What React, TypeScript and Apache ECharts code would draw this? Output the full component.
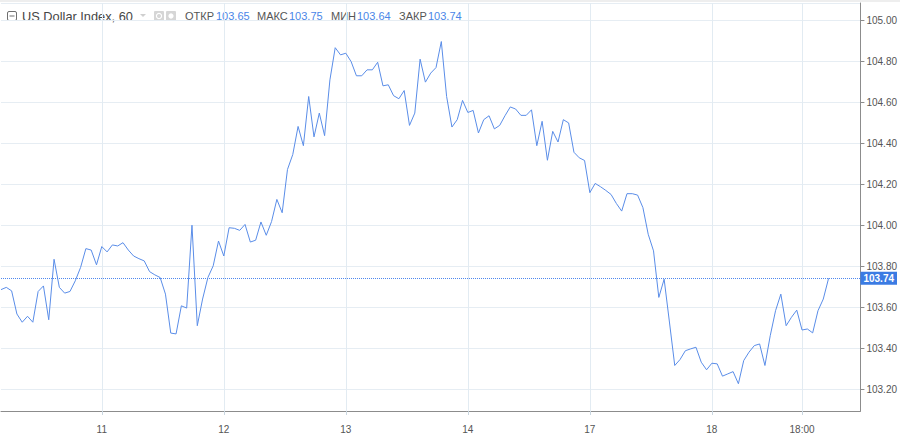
import React, { useEffect, useRef } from "react";
import * as echarts from "echarts";

// hourly closes, one per category slot (23 bars per trading day)
const closes: number[] = [
  103.685, 103.696, 103.679, 103.566, 103.526, 103.555, 103.526, 103.676, 103.703, 103.538,
  103.833, 103.696, 103.668, 103.676, 103.728, 103.793, 103.885, 103.878, 103.806, 103.895,
  103.869, 103.903, 103.898, 103.914, 103.878, 103.849, 103.836, 103.825, 103.773, 103.757,
  103.744, 103.663, 103.473, 103.469, 103.606, 103.595, 103.999, 103.509, 103.639, 103.744,
  103.801, 103.922, 103.849, 103.987, 103.984, 103.974, 104.003, 103.917, 103.926, 104.015,
  103.950, 104.017, 104.125, 104.060, 104.271, 104.344, 104.481, 104.387, 104.627, 104.430,
  104.546, 104.436, 104.708, 104.865, 104.830, 104.838, 104.797, 104.728, 104.728, 104.757,
  104.757, 104.794, 104.679, 104.684, 104.631, 104.616, 104.656, 104.486, 104.546, 104.809,
  104.697, 104.741, 104.768, 104.895, 104.627, 104.478, 104.514, 104.608, 104.549, 104.559,
  104.449, 104.514, 104.533, 104.469, 104.486, 104.533, 104.576, 104.566, 104.535, 104.535,
  104.562, 104.387, 104.506, 104.316, 104.457, 104.405, 104.514, 104.498, 104.355, 104.328,
  104.315, 104.158, 104.203, 104.187, 104.169, 104.149, 104.105, 104.068, 104.153, 104.153,
  104.146, 104.085, 103.955, 103.874, 103.647, 103.736, 103.527, 103.315, 103.344, 103.387,
  103.396, 103.404, 103.331, 103.294, 103.326, 103.323, 103.263, 103.274, 103.285, 103.226,
  103.339, 103.380, 103.412, 103.420, 103.315, 103.460, 103.582, 103.663, 103.509, 103.550,
  103.585, 103.488, 103.493, 103.474, 103.582, 103.639, 103.740,
];

const slotCount = 163;
const categories: string[] = Array.from({ length: slotCount }, (_, i) => String(i));

const tickIndex: number[] = [19, 42, 65, 88, 111, 134, 151];
const tickLabels: string[] = ["11", "12", "13", "14", "17", "18", "18:00"];

const title = "US Dollar Index, 60";
const ohlcLabels: string[] = ["ОТКР", "МАКС", "МИН", "ЗАКР"];
const ohlcValues: number[] = [103.65, 103.75, 103.64, 103.74];
const ohlcLabelX: number[] = [185, 257, 331, 399];
const ohlcValueX: number[] = [216, 289, 357, 428];

const yMin = 103.093;
const yMax = 105.083;

const FONT = "'Liberation Sans', Arial, sans-serif";

export default function App() {
  const ref = useRef<HTMLDivElement>(null);

  useEffect(() => {
    if (!ref.current) return;
    const chart = echarts.init(ref.current, undefined, { renderer: "svg" });
    const isTick = (index: number) => tickIndex.includes(index);
    const closeValue = ohlcValues[3];

    const headerGraphics: any[] = [
      { type: "rect", shape: { x: 0, y: 0, width: 900, height: 2 }, style: { fill: "#eeeeee" }, silent: true },
      // collapse icon
      { type: "rect", shape: { x: 7.5, y: 11.5, width: 9, height: 9, r: 1.5 }, style: { fill: "#fff", stroke: "#6f6f6f", lineWidth: 1 } },
      { type: "line", shape: { x1: 9.5, y1: 16, x2: 14.5, y2: 16 }, style: { stroke: "#6f6f6f", lineWidth: 1 } },
      {
        type: "text", x: 22, y: 16,
        style: { text: title, fill: "#464646", font: `12.8px ${FONT}`, textVerticalAlign: "middle" },
      },
      { type: "polygon", shape: { points: [[140, 14], [146, 14], [143, 17]] }, style: { fill: "#cfcfcf" } },
      // small settings icons
      { type: "rect", shape: { x: 154, y: 11, width: 10, height: 10, r: 1 }, style: { fill: "#d6d6d6" } },
      { type: "circle", shape: { cx: 159, cy: 16, r: 2.6 }, style: { fill: "none", stroke: "#fff", lineWidth: 1.2 } },
      { type: "rect", shape: { x: 166, y: 11, width: 10, height: 10, r: 1 }, style: { fill: "#d6d6d6" } },
      { type: "circle", shape: { cx: 171, cy: 16, r: 2.6 }, style: { fill: "#fff" } },
    ];
    ohlcLabels.forEach((lab, i) => {
      headerGraphics.push({
        type: "text", x: ohlcLabelX[i], y: 16,
        style: { text: lab, fill: "#555555", font: `11px ${FONT}`, textVerticalAlign: "middle" },
      });
      headerGraphics.push({
        type: "text", x: ohlcValueX[i], y: 16,
        style: { text: ohlcValues[i].toFixed(2), fill: "#4a86e8", font: `11px ${FONT}`, textVerticalAlign: "middle" },
      });
    });

    chart.setOption({
      animation: false,
      backgroundColor: "#ffffff",
      grid: { left: 1, right: 35.5, top: 3, bottom: 24, containLabel: false },
      xAxis: {
        type: "category",
        data: categories,
        boundaryGap: false,
        axisLine: { show: true, lineStyle: { color: "#8c8c8c", width: 1 } },
        axisTick: { show: true, interval: isTick, length: 4, lineStyle: { color: "#c9d6e0" } },
        axisLabel: {
          interval: isTick,
          formatter: (v: string) => {
            const k = tickIndex.indexOf(Number(v));
            return k >= 0 ? tickLabels[k] : "";
          },
          color: "#555555",
          fontSize: 10,
          fontFamily: FONT,
          margin: 13,
        },
        splitLine: { show: true, interval: isTick, lineStyle: { color: "#e2ebf2", width: 1 } },
      },
      yAxis: {
        type: "value",
        position: "right",
        min: yMin,
        max: yMax,
        splitNumber: 10,
        scale: true,
        axisLine: { show: true, lineStyle: { color: "#8c8c8c", width: 1 } },
        axisTick: { show: true, inside: false, length: 4, lineStyle: { color: "#8c8c8c" } },
        axisLabel: {
          color: "#555555",
          fontSize: 10,
          fontFamily: FONT,
          margin: 6,
          showMinLabel: false,
          showMaxLabel: false,
          formatter: (v: number) => v.toFixed(2),
        },
        splitLine: { show: true, lineStyle: { color: "#e6edf3", width: 1 } },
      },
      series: [
        {
          type: "line",
          data: closes,
          showSymbol: false,
          symbol: "none",
          silent: true,
          lineStyle: { color: "#5a8de8", width: 1 },
          markLine: {
            silent: true,
            symbol: "none",
            animation: false,
            data: [{ yAxis: closeValue }],
            lineStyle: { type: [1, 1], color: "#4f88ee", width: 1 },
            label: {
              show: true,
              position: "end",
              distance: 0,
              formatter: () => closeValue.toFixed(2),
              color: "#ffffff",
              fontWeight: "bold",
              fontSize: 10,
              fontFamily: FONT,
              lineHeight: 10,
              backgroundColor: "#3b7be3",
              padding: [2, 3, 1, 3],
            },
          },
        },
      ],
      graphic: headerGraphics,
    });

    return () => chart.dispose();
  }, []);

  return (
    <div
      ref={ref}
      style={{ position: "fixed", left: 0, top: 0, width: 900, height: 435, background: "#fff" }}
    />
  );
}
